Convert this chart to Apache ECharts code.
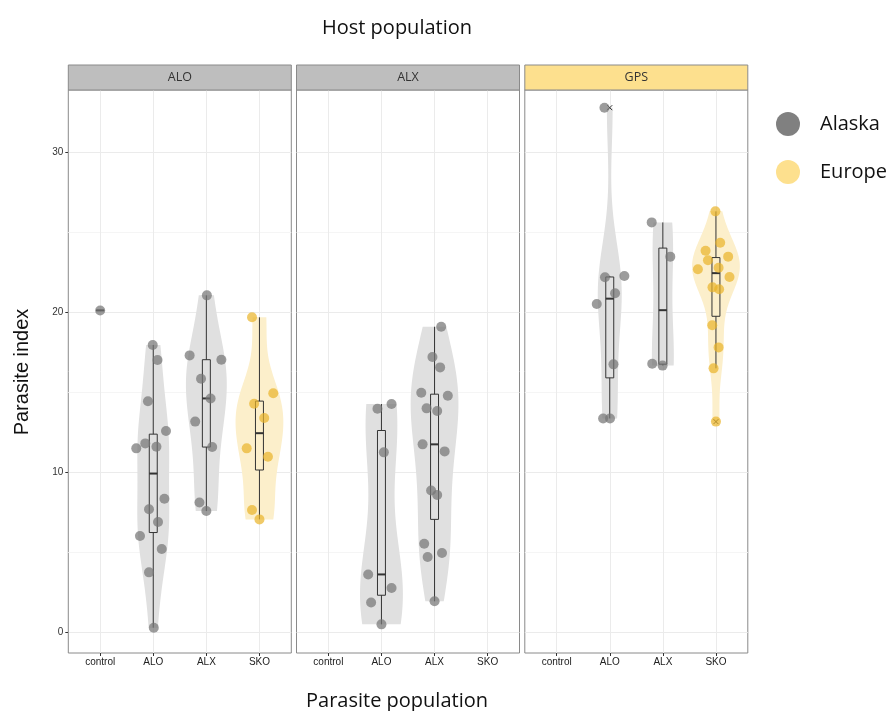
<!DOCTYPE html>
<html>
<head>
<meta charset="utf-8">
<script src="https://cdn.jsdelivr.net/npm/echarts@6/dist/echarts.min.js"></script>
<style>
  html, body { margin: 0; padding: 0; background: #fff; }
  #chart { width: 893px; height: 711px; }
</style>
</head>
<body>
<div id="chart"></div>
<script>
// ---- categories ----
const parasitePops = ['control', 'ALO', 'ALX', 'SKO'];
const hostPops = ['ALO', 'ALX', 'GPS'];
const hostOrigin = ['Alaska', 'Alaska', 'Europe'];
const parasiteOrigin = ['Alaska', 'Alaska', 'Alaska', 'Europe'];
const yTicks = [0, 10, 20, 30];
const yMinorTicks = [5, 15, 25];

// ---- parasite index, host ALO ----
const aloControl = [20.1];
const aloALO = [17.94, 17.0, 14.42, 12.56, 11.48, 11.79, 11.58, 8.33, 7.67, 6.875, 6.0, 5.19, 3.73, 0.27];
const aloALX = [21.04, 17.29, 17.02, 15.83, 14.6, 13.15, 11.56, 8.1, 7.56];
const aloSKO = [19.67, 14.92, 14.27, 13.375, 11.48, 10.96, 7.625, 7.04];

// ---- parasite index, host ALX ----
const alxALO = [14.25, 13.96, 11.23, 3.6, 2.75, 1.85, 0.48];
const alxALX = [19.08, 17.19, 16.54, 14.96, 14.77, 13.98, 13.81, 11.73, 11.29, 8.85, 8.56, 5.52, 4.69, 4.94, 1.92];

// ---- parasite index, host GPS ----
const gpsALO = [32.77, 22.25, 22.17, 21.17, 20.5, 16.73, 13.35, 13.35];
const gpsALX = [25.6, 23.46, 16.77, 16.65];
const gpsSKO = [26.29, 24.33, 23.83, 23.46, 23.23, 22.77, 22.67, 22.19, 21.54, 21.42, 19.17, 17.79, 16.48, 13.15];

// ---- horizontal jitter of each point, in category widths ----
const jitAloControl = [0];
const jitAloALO = [-0.01, 0.08, -0.10, 0.24, -0.32, -0.15, 0.06, 0.21, -0.08, 0.09, -0.25, 0.16, -0.08, 0.01];
const jitAloALX = [0.01, -0.315, 0.283, -0.10, 0.08, -0.21, 0.11, -0.13, 0];
const jitAloSKO = [-0.14, 0.26, -0.10, 0.09, -0.24, 0.16, -0.14, 0];
const jitAlxALO = [0.19, -0.075, 0.045, -0.25, 0.19, -0.195, 0];
const jitAlxALX = [0.125, -0.04, 0.105, -0.25, 0.25, -0.15, 0.05, -0.225, 0.19, -0.065, 0.05, -0.195, -0.13, 0.14, 0];
const jitGpsALO = [-0.10, 0.275, -0.09, 0.10, -0.245, 0.07, -0.125, 0.005];
const jitGpsALX = [-0.21, 0.14, -0.20, -0.005];
const jitGpsSKO = [-0.01, 0.08, -0.195, 0.23, -0.15, 0.05, -0.34, 0.255, -0.065, 0.06, -0.07, 0.05, -0.045, 0];

// groups: panel index, parasite category index, values, jitter
const groups = [
  { panel: 0, cat: 0, values: aloControl, jitter: jitAloControl },
  { panel: 0, cat: 1, values: aloALO, jitter: jitAloALO },
  { panel: 0, cat: 2, values: aloALX, jitter: jitAloALX },
  { panel: 0, cat: 3, values: aloSKO, jitter: jitAloSKO },
  { panel: 1, cat: 1, values: alxALO, jitter: jitAlxALO },
  { panel: 1, cat: 2, values: alxALX, jitter: jitAlxALX },
  { panel: 2, cat: 1, values: gpsALO, jitter: jitGpsALO },
  { panel: 2, cat: 2, values: gpsALX, jitter: jitGpsALX },
  { panel: 2, cat: 3, values: gpsSKO, jitter: jitGpsSKO }
];

// ---- styling ----
const colors = {
  Alaska: { point: 'rgba(118,118,118,0.9)', violin: '#e0e0e0', key: '#808080' },
  Europe: { point: 'rgba(234,180,40,0.88)', violin: '#fcefcb', key: '#fde08e' }
};
const stripFill = { Alaska: '#bebebe', Europe: '#fde08e' };
const avenirLike = '"Open Sans", Lato, sans-serif';
const helvLike = '"Liberation Sans", Arial, sans-serif';

const Y_MIN = -1.31, Y_MAX = 33.875;
const X_MIN = -0.6, X_MAX = 3.6;
const PANEL_LEFT = [68.3, 296.5, 524.8];
const PANEL_W = 223;
const PANEL_TOP = 90;
const PANEL_H = 563;
const STRIP_H = 25;
const BOX_W = 0.15;
const VIOLIN_W = 0.9;

// ---- statistics ----
function quantile7(sorted, p) {
  const h = (sorted.length - 1) * p;
  const lo = Math.floor(h), hi = Math.ceil(h);
  return sorted[lo] + (h - lo) * (sorted[hi] - sorted[lo]);
}
function boxStats(values) {
  const s = values.slice().sort((a, b) => a - b);
  const q1 = quantile7(s, 0.25), med = quantile7(s, 0.5), q3 = quantile7(s, 0.75);
  const iqr = q3 - q1;
  const loF = q1 - 1.5 * iqr, hiF = q3 + 1.5 * iqr;
  const inside = s.filter(v => v >= loF && v <= hiF);
  return {
    q1, med, q3,
    wLo: Math.min(...inside), wHi: Math.max(...inside),
    outliers: s.filter(v => v < loF || v > hiF)
  };
}
function bwNrd0(values) {
  const n = values.length;
  const s = values.slice().sort((a, b) => a - b);
  const mean = s.reduce((a, b) => a + b, 0) / n;
  const sd = Math.sqrt(s.reduce((a, b) => a + (b - mean) * (b - mean), 0) / (n - 1));
  const iqr = quantile7(s, 0.75) - quantile7(s, 0.25);
  let lo = Math.min(sd, iqr / 1.34);
  if (!lo) lo = sd || Math.abs(s[0]) || 1;
  return 0.9 * lo * Math.pow(n, -0.2);
}
function violinProfile(values, steps) {
  const bw = bwNrd0(values);
  const lo = Math.min(...values), hi = Math.max(...values);
  const k = 1 / (values.length * bw * Math.sqrt(2 * Math.PI));
  const out = [];
  for (let i = 0; i <= steps; i++) {
    const y = lo + (hi - lo) * i / steps;
    let d = 0;
    for (const v of values) { const z = (y - v) / bw; d += Math.exp(-0.5 * z * z); }
    out.push([y, d * k]);
  }
  return out;
}

groups.forEach(g => {
  g.origin = parasiteOrigin[g.cat];
  g.box = boxStats(g.values);
  g.profile = g.values.length >= 2 ? violinProfile(g.values, 160) : null;
});
// violin widths scaled to the widest density within each panel
const panelMax = [0, 0, 0];
groups.forEach(g => {
  if (g.profile) g.profile.forEach(p => { panelMax[g.panel] = Math.max(panelMax[g.panel], p[1]); });
});

// ---- layout ----
const grids = [], xAxes = [], yAxes = [], series = [], graphics = [];
hostPops.forEach((host, p) => {
  grids.push({
    left: PANEL_LEFT[p], top: PANEL_TOP, width: PANEL_W, height: PANEL_H,
    show: true, borderColor: '#8a8a8a', borderWidth: 1, backgroundColor: 'transparent'
  });
  xAxes.push({
    type: 'value', gridIndex: p, min: X_MIN, max: X_MAX,
    axisLine: { show: false, onZero: false },
    axisTick: { show: true, length: 3, customValues: [0, 1, 2, 3], lineStyle: { color: '#333' } },
    axisLabel: {
      customValues: [0, 1, 2, 3], margin: 4,
      formatter: v => parasitePops[v],
      fontFamily: helvLike, fontSize: 10, color: '#222'
    },
    splitLine: { show: true, lineStyle: { color: '#ebebeb', width: 1 } }
  });
  yAxes.push({
    type: 'value', gridIndex: p, min: Y_MIN, max: Y_MAX,
    axisLine: { show: false, onZero: false },
    axisTick: { show: p === 0, length: 3, customValues: yTicks, lineStyle: { color: '#333' } },
    axisLabel: {
      show: p === 0, customValues: yTicks, margin: 5,
      fontFamily: helvLike, fontSize: 10, color: '#333'
    },
    splitLine: { show: true, lineStyle: { color: '#ebebeb', width: 1 } }
  });
  yAxes.push({
    type: 'value', gridIndex: p, min: Y_MIN, max: Y_MAX,
    axisLine: { show: false, onZero: false },
    axisTick: { show: false, customValues: yMinorTicks },
    axisLabel: { show: false, customValues: yMinorTicks },
    splitLine: { show: true, lineStyle: { color: '#f5f5f5', width: 1 } }
  });

  // strip header
  graphics.push({
    type: 'rect', z: 10,
    shape: { x: PANEL_LEFT[p], y: PANEL_TOP - STRIP_H, width: PANEL_W, height: STRIP_H },
    style: { fill: stripFill[hostOrigin[p]], stroke: '#8a8a8a', lineWidth: 1 }
  });
  graphics.push({
    type: 'text', z: 11,
    x: PANEL_LEFT[p] + PANEL_W / 2, y: PANEL_TOP - STRIP_H / 2,
    style: { text: host, fontFamily: avenirLike, fontSize: 12.5, fill: '#333', align: 'center', verticalAlign: 'middle' }
  });

  const pg = groups.filter(g => g.panel === p);
  const xi = p, yi = p * 2;

  // violins
  series.push({
    type: 'custom', xAxisIndex: xi, yAxisIndex: yi, z: 1, silent: true,
    data: pg.map((g, i) => [g.cat, i]).filter((d, i) => pg[i].profile),
    renderItem: (params, api) => {
      const g = pg[api.value(1)];
      const scale = (VIOLIN_W / 2) / panelMax[p];
      const pts = [];
      g.profile.forEach(([y, d]) => pts.push(api.coord([g.cat + d * scale, y])));
      for (let i = g.profile.length - 1; i >= 0; i--) {
        const [y, d] = g.profile[i];
        pts.push(api.coord([g.cat - d * scale, y]));
      }
      return { type: 'polygon', shape: { points: pts }, style: { fill: colors[g.origin].violin, stroke: null } };
    }
  });

  // boxplots and outliers
  series.push({
    type: 'custom', xAxisIndex: xi, yAxisIndex: yi, z: 2, silent: true,
    data: pg.map((g, i) => [g.cat, i]),
    renderItem: (params, api) => {
      const g = pg[api.value(1)];
      const b = g.box;
      const c = g.cat;
      const stroke = '#333';
      const tl = api.coord([c - BOX_W / 2, b.q3]);
      const br = api.coord([c + BOX_W / 2, b.q1]);
      const children = [
        { type: 'line', shape: { x1: api.coord([c, b.wHi])[0], y1: api.coord([c, b.wHi])[1], x2: api.coord([c, b.q3])[0], y2: api.coord([c, b.q3])[1] }, style: { stroke, lineWidth: 1 } },
        { type: 'line', shape: { x1: api.coord([c, b.q1])[0], y1: api.coord([c, b.q1])[1], x2: api.coord([c, b.wLo])[0], y2: api.coord([c, b.wLo])[1] }, style: { stroke, lineWidth: 1 } },
        { type: 'rect', shape: { x: tl[0], y: tl[1], width: br[0] - tl[0], height: br[1] - tl[1] }, style: { fill: 'none', stroke, lineWidth: 1 } },
        { type: 'line', shape: { x1: tl[0], y1: api.coord([c, b.med])[1], x2: br[0], y2: api.coord([c, b.med])[1] }, style: { stroke, lineWidth: 2 } }
      ];
      b.outliers.forEach(o => {
        const pt = api.coord([c, o]);
        const r = 2.5;
        children.push({ type: 'line', shape: { x1: pt[0] - r, y1: pt[1] - r, x2: pt[0] + r, y2: pt[1] + r }, style: { stroke, lineWidth: 1 } });
        children.push({ type: 'line', shape: { x1: pt[0] - r, y1: pt[1] + r, x2: pt[0] + r, y2: pt[1] - r }, style: { stroke, lineWidth: 1 } });
      });
      return { type: 'group', children };
    }
  });

  // jittered points
  ['Alaska', 'Europe'].forEach(origin => {
    const data = [];
    pg.filter(g => g.origin === origin).forEach(g => {
      g.values.forEach((v, i) => data.push([g.cat + g.jitter[i], v]));
    });
    if (!data.length) return;
    series.push({
      name: origin, type: 'scatter', xAxisIndex: xi, yAxisIndex: yi, z: 3,
      symbol: 'circle', symbolSize: 10, silent: true,
      itemStyle: { color: colors[origin].point },
      data
    });
  });
});

// titles
graphics.push({
  type: 'text', x: 397, y: 28,
  style: { text: 'Host population', fontFamily: avenirLike, fontSize: 20, fill: '#111', align: 'center', verticalAlign: 'middle' }
});
graphics.push({
  type: 'text', x: 397, y: 701,
  style: { text: 'Parasite population', fontFamily: avenirLike, fontSize: 20, fill: '#111', align: 'center', verticalAlign: 'middle' }
});
graphics.push({
  type: 'text', x: 22, y: 372, rotation: Math.PI / 2,
  style: { text: 'Parasite index', fontFamily: helvLike, fontSize: 20, fill: '#111', align: 'center', verticalAlign: 'middle' }
});

// key
['Alaska', 'Europe'].forEach((origin, i) => {
  const cy = 124 + i * 48;
  graphics.push({ type: 'circle', shape: { cx: 788, cy, r: 12 }, style: { fill: colors[origin].key } });
  graphics.push({
    type: 'text', x: 820, y: cy,
    style: { text: origin, fontFamily: avenirLike, fontSize: 20, fill: '#111', align: 'left', verticalAlign: 'middle' }
  });
});

const chart = echarts.init(document.getElementById('chart'), null, { renderer: 'canvas' });
chart.setOption({
  animation: false,
  backgroundColor: '#fff',
  grid: grids,
  xAxis: xAxes,
  yAxis: yAxes,
  series,
  graphic: graphics
});
</script>
</body>
</html>
